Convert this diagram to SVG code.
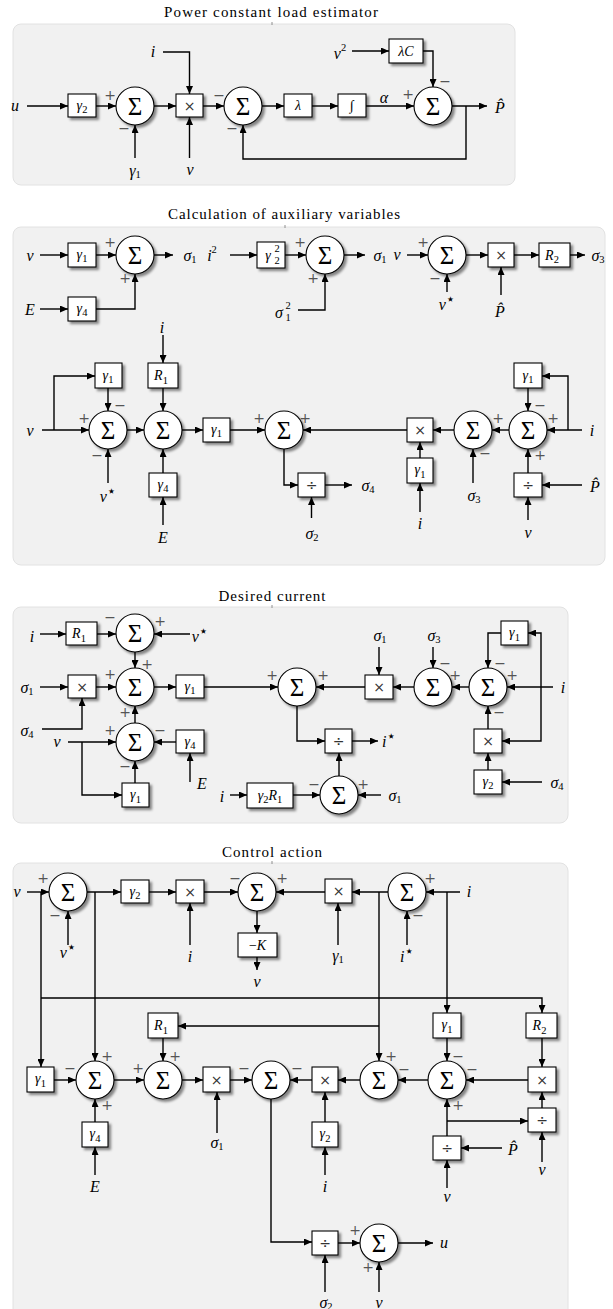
<svg xmlns="http://www.w3.org/2000/svg" width="613" height="1309" viewBox="0 0 613 1309">
<defs>
  <marker id="ah" markerUnits="userSpaceOnUse" markerWidth="9" markerHeight="7" refX="8" refY="3.5" orient="auto">
    <path d="M0,0 L8,3.5 L0,7 z" fill="#000"/>
  </marker>
  <filter id="sh" x="-30%" y="-30%" width="170%" height="170%">
    <feDropShadow dx="2.5" dy="2.5" stdDeviation="0.9" flood-color="#000" flood-opacity="0.45"/>
  </filter>
  <style>
    .pn{fill:#f1f1f1;stroke:#e2e2e2;stroke-width:1}
    .ttl{font-family:"Liberation Serif","DejaVu Serif",serif;font-size:15px;text-anchor:middle;fill:#000}
    .tk{stroke:#777;stroke-width:0.8}
    .b{fill:#fff;stroke:#000;stroke-width:1.1;filter:url(#sh)}
    .a{fill:none;stroke:#000;stroke-width:1.4;marker-end:url(#ah)}
    .t{font-family:"Liberation Serif","DejaVu Serif",serif;font-size:16px;font-style:italic;text-anchor:middle;dominant-baseline:central;fill:#000}
    .bt{font-size:14px}
    .r{font-style:normal}
    .sb{font-size:10.5px;font-style:normal}
    .st{font-family:"DejaVu Sans",sans-serif;font-size:15px;font-style:normal}
    .sig{font-family:"Liberation Serif","DejaVu Serif",serif;font-size:25px;font-style:normal;text-anchor:middle;dominant-baseline:central}
    .op{font-family:"DejaVu Sans",sans-serif;font-size:14px;fill:#333;text-anchor:middle;dominant-baseline:central}
    .sg{font-family:"DejaVu Sans",sans-serif;font-size:14px;fill:#555;text-anchor:middle;dominant-baseline:central}
  </style>
</defs>

<!-- ===== Panel 1: power constant load estimator ===== -->
<g id="panel1">
  <rect class="pn" x="13" y="24" width="502" height="161" rx="8"/>
  <text class="ttl" x="271" y="17" textLength="214" lengthAdjust="spacing">Power constant load estimator</text>
  <line class="tk" x1="272" y1="22" x2="272" y2="25"/>
</g>
<g id="p1-g2"><rect class="b" x="68" y="94" width="28" height="23"/><text class="t bt" x="82" y="105">γ<tspan class="sb" dy="4">2</tspan></text></g>
<g id="p1-sum1"><circle class="b" cx="135" cy="106" r="19"/><text class="sig" x="135" y="106">Σ</text>
  <text class="sg" x="110" y="95">+</text><text class="sg" x="124" y="128">−</text></g>
<g id="p1-mul"><rect class="b" x="176" y="94" width="27" height="23"/><text class="op" x="189.5" y="105.5">×</text></g>
<g id="p1-sum2"><circle class="b" cx="243" cy="106" r="19"/><text class="sig" x="243" y="106">Σ</text>
  <text class="sg" x="219" y="95">−</text><text class="sg" x="232" y="128">−</text></g>
<g id="p1-lambda"><rect class="b" x="284" y="94" width="28" height="23"/><text class="t bt" x="298" y="105.5">λ</text></g>
<g id="p1-int"><rect class="b" x="338" y="94" width="28" height="23"/><text class="t bt r" x="352" y="105.5">∫</text></g>
<g id="p1-lc"><rect class="b" x="389" y="39" width="34" height="24"/><text class="t bt" x="406" y="51">λC</text></g>
<g id="p1-sum3"><circle class="b" cx="433" cy="106" r="19"/><text class="sig" x="433" y="106">Σ</text>
  <text class="sg" x="408" y="94">+</text><text class="sg" x="445" y="81">−</text></g>
<g id="p1-labels">
  <text class="t" x="15" y="105">u</text>
  <text class="t" x="135" y="170">γ<tspan class="sb" dy="4">1</tspan></text>
  <text class="t" x="153" y="51">i</text>
  <text class="t" x="190" y="169">v</text>
  <text class="t" x="340" y="53">v<tspan class="sb" dy="-6">2</tspan></text>
  <text class="t" x="384" y="97">α</text>
  <text class="t" x="500" y="107">P&#x302;</text>
</g>

<!-- ===== Panel 2: calculation of auxiliary variables ===== -->
<g id="panel2">
  <rect class="pn" x="13" y="227" width="592" height="338" rx="8"/>
  <text class="ttl" x="284" y="219" textLength="232" lengthAdjust="spacing">Calculation of auxiliary variables</text>
  <line class="tk" x1="285" y1="225" x2="285" y2="228"/>
</g>
<g id="p2-g1a"><rect class="b" x="68" y="243" width="28" height="24"/><text class="t bt" x="82" y="254">γ<tspan class="sb" dy="4">1</tspan></text></g>
<g id="p2-g4a"><rect class="b" x="68" y="297" width="28" height="24"/><text class="t bt" x="82" y="308">γ<tspan class="sb" dy="4">4</tspan></text></g>
<g id="p2-sumA"><circle class="b" cx="135" cy="255" r="19"/><text class="sig" x="135" y="255">Σ</text>
  <text class="sg" x="110" y="242">+</text><text class="sg" x="125" y="278">+</text></g>
<g id="p2-g22"><rect class="b" x="257" y="242" width="28" height="26"/><text class="t bt" x="268" y="255">γ</text><text class="t sb" x="277" y="260">2</text><text class="t sb" x="277" y="248">2</text></g>
<g id="p2-sumB"><circle class="b" cx="325" cy="255" r="19"/><text class="sig" x="325" y="255">Σ</text>
  <text class="sg" x="300" y="242">+</text><text class="sg" x="313" y="278">+</text></g>
<g id="p2-sumC"><circle class="b" cx="447" cy="255" r="19"/><text class="sig" x="447" y="255">Σ</text>
  <text class="sg" x="423" y="242">+</text><text class="sg" x="435" y="278">−</text></g>
<g id="p2-mulA"><rect class="b" x="488" y="243" width="26" height="24"/><text class="op" x="501" y="254.5">×</text></g>
<g id="p2-r2"><rect class="b" x="539" y="243" width="31" height="24"/><text class="t bt" x="552" y="255">R<tspan class="sb" dy="4">2</tspan></text></g>

<g id="p2-g1b"><rect class="b" x="95" y="363" width="27" height="25"/><text class="t bt" x="108" y="375">γ<tspan class="sb" dy="4">1</tspan></text></g>
<g id="p2-r1"><rect class="b" x="148" y="363" width="30" height="25"/><text class="t bt" x="161" y="375.5">R<tspan class="sb" dy="4">1</tspan></text></g>
<g id="p2-sumD"><circle class="b" cx="108" cy="430" r="19"/><text class="sig" x="108" y="430">Σ</text>
  <text class="sg" x="84" y="418">+</text><text class="sg" x="120" y="405">−</text><text class="sg" x="97" y="455">−</text></g>
<g id="p2-sumE"><circle class="b" cx="163" cy="430" r="19"/><text class="sig" x="163" y="430">Σ</text></g>
<g id="p2-g4b"><rect class="b" x="149" y="473" width="28" height="24"/><text class="t bt" x="163" y="484">γ<tspan class="sb" dy="4">4</tspan></text></g>
<g id="p2-g1c"><rect class="b" x="203" y="418" width="27" height="24"/><text class="t bt" x="216.5" y="429">γ<tspan class="sb" dy="4">1</tspan></text></g>
<g id="p2-sumF"><circle class="b" cx="284" cy="430" r="19"/><text class="sig" x="284" y="430">Σ</text>
  <text class="sg" x="259" y="418">+</text><text class="sg" x="305" y="418">+</text></g>
<g id="p2-div"><rect class="b" x="298" y="473" width="27" height="24"/><text class="op" x="311.5" y="485">÷</text></g>
<g id="p2-mulB"><rect class="b" x="407" y="418" width="26" height="24"/><text class="op" x="420" y="429.5">×</text></g>
<g id="p2-g1d"><rect class="b" x="407" y="458" width="26" height="25"/><text class="t bt" x="420" y="469.5">γ<tspan class="sb" dy="4">1</tspan></text></g>
<g id="p2-sumG"><circle class="b" cx="473" cy="430" r="19"/><text class="sig" x="473" y="430">Σ</text>
  <text class="sg" x="498" y="418">+</text><text class="sg" x="485" y="453">−</text></g>
<g id="p2-sumH"><circle class="b" cx="528" cy="430" r="19"/><text class="sig" x="528" y="430">Σ</text>
  <text class="sg" x="540" y="405">−</text><text class="sg" x="553" y="418">+</text><text class="sg" x="540" y="455">+</text></g>
<g id="p2-g1e"><rect class="b" x="514" y="363" width="28" height="25"/><text class="t bt" x="528" y="375">γ<tspan class="sb" dy="4">1</tspan></text></g>
<g id="p2-divB"><rect class="b" x="514" y="473" width="28" height="24"/><text class="op" x="528" y="485">÷</text></g>
<g id="p2-labels">
  <text class="t" x="30" y="255">v</text>
  <text class="t" x="190" y="255">σ<tspan class="sb" dy="4">1</tspan></text>
  <text class="t" x="30" y="309">E</text>
  <text class="t" x="212" y="255">i<tspan class="sb" dy="-6">2</tspan></text>
  <text class="t" x="279" y="312">σ</text><text class="t sb" x="288" y="317">1</text><text class="t sb" x="288" y="305">2</text>
  <text class="t" x="380" y="255">σ<tspan class="sb" dy="4">1</tspan></text>
  <text class="t" x="397" y="254">v</text>
  <text class="t" x="447" y="304">v<tspan class="st" dy="-5">⋆</tspan></text>
  <text class="t" x="500" y="311">P&#x302;</text>
  <text class="t" x="598" y="255">σ<tspan class="sb" dy="4">3</tspan></text>
  <text class="t" x="162" y="327">i</text>
  <text class="t" x="30" y="430">v</text>
  <text class="t" x="108" y="496">v<tspan class="st" dy="-5">⋆</tspan></text>
  <text class="t" x="163" y="537">E</text>
  <text class="t" x="368" y="485">σ<tspan class="sb" dy="4">4</tspan></text>
  <text class="t" x="312" y="533">σ<tspan class="sb" dy="4">2</tspan></text>
  <text class="t" x="420" y="523">i</text>
  <text class="t" x="474" y="495">σ<tspan class="sb" dy="4">3</tspan></text>
  <text class="t" x="592" y="430">i</text>
  <text class="t" x="595" y="486">P&#x302;</text>
  <text class="t" x="528" y="532">v</text>
</g>

<!-- ===== Panel 3: desired current ===== -->
<g id="panel3">
  <rect class="pn" x="13" y="607" width="555" height="216" rx="8"/>
  <text class="ttl" x="272" y="601" textLength="107" lengthAdjust="spacing">Desired current</text>
  <line class="tk" x1="272" y1="605" x2="272" y2="608"/>
</g>
<g id="p3-r1"><rect class="b" x="66" y="622" width="31" height="23"/><text class="t bt" x="79" y="633.5">R<tspan class="sb" dy="4">1</tspan></text></g>
<g id="p3-sumA"><circle class="b" cx="135" cy="633" r="19"/><text class="sig" x="135" y="633">Σ</text>
  <text class="sg" x="110" y="617">−</text><text class="sg" x="160" y="621">+</text></g>
<g id="p3-mul"><rect class="b" x="68" y="675" width="28" height="23"/><text class="op" x="82" y="686.5">×</text></g>
<g id="p3-sumB"><circle class="b" cx="135" cy="687" r="19"/><text class="sig" x="135" y="687">Σ</text>
  <text class="sg" x="147" y="664">+</text><text class="sg" x="110" y="674">+</text><text class="sg" x="125" y="712">+</text></g>
<g id="p3-g1a"><rect class="b" x="176" y="675" width="28" height="23"/><text class="t bt" x="190" y="686">γ<tspan class="sb" dy="4">1</tspan></text></g>
<g id="p3-sumC"><circle class="b" cx="135" cy="742" r="19"/><text class="sig" x="135" y="742">Σ</text>
  <text class="sg" x="110" y="730">+</text><text class="sg" x="160" y="730">−</text><text class="sg" x="125" y="766">−</text></g>
<g id="p3-g4"><rect class="b" x="176" y="730" width="28" height="23"/><text class="t bt" x="190" y="741">γ<tspan class="sb" dy="4">4</tspan></text></g>
<g id="p3-g1b"><rect class="b" x="122" y="783" width="27" height="24"/><text class="t bt" x="135.5" y="794.5">γ<tspan class="sb" dy="4">1</tspan></text></g>
<g id="p3-sumD"><circle class="b" cx="297" cy="687" r="19"/><text class="sig" x="297" y="687">Σ</text>
  <text class="sg" x="272" y="675">+</text><text class="sg" x="323" y="675">+</text></g>
<g id="p3-mulB"><rect class="b" x="365" y="675" width="28" height="24"/><text class="op" x="379" y="686.5">×</text></g>
<g id="p3-sumE"><circle class="b" cx="433" cy="687" r="19"/><text class="sig" x="433" y="687">Σ</text>
  <text class="sg" x="455" y="675">+</text><text class="sg" x="445" y="663">−</text></g>
<g id="p3-sumF"><circle class="b" cx="488" cy="687" r="19"/><text class="sig" x="488" y="687">Σ</text>
  <text class="sg" x="500" y="663">−</text><text class="sg" x="512" y="675">+</text><text class="sg" x="499" y="712">−</text></g>
<g id="p3-g1c"><rect class="b" x="501" y="621" width="27" height="24"/><text class="t bt" x="514.5" y="632.5">γ<tspan class="sb" dy="4">1</tspan></text></g>
<g id="p3-mulC"><rect class="b" x="474" y="729" width="28" height="24"/><text class="op" x="488" y="740.5">×</text></g>
<g id="p3-g2"><rect class="b" x="474" y="770" width="28" height="24"/><text class="t bt" x="488" y="781">γ<tspan class="sb" dy="4">2</tspan></text></g>
<g id="p3-div"><rect class="b" x="325" y="729" width="27" height="24"/><text class="op" x="338.5" y="741">÷</text></g>
<g id="p3-sumG"><circle class="b" cx="339" cy="795" r="19"/><text class="sig" x="339" y="795">Σ</text>
  <text class="sg" x="314" y="784">−</text><text class="sg" x="363" y="784">+</text></g>
<g id="p3-g2r1"><rect class="b" x="247" y="783" width="46" height="25"/><text class="t bt" x="270" y="795">γ<tspan class="sb" dy="4">2</tspan><tspan dy="-4">R</tspan><tspan class="sb" dy="4">1</tspan></text></g>
<g id="p3-labels">
  <text class="t" x="32" y="636">i</text>
  <text class="t" x="200" y="636">v<tspan class="st" dy="-5">⋆</tspan></text>
  <text class="t" x="27" y="687">σ<tspan class="sb" dy="4">1</tspan></text>
  <text class="t" x="27" y="730">σ<tspan class="sb" dy="4">4</tspan></text>
  <text class="t" x="57" y="741">v</text>
  <text class="t" x="202" y="783">E</text>
  <text class="t" x="380" y="635">σ<tspan class="sb" dy="4">1</tspan></text>
  <text class="t" x="434" y="635">σ<tspan class="sb" dy="4">3</tspan></text>
  <text class="t" x="563" y="687">i</text>
  <text class="t" x="557" y="782">σ<tspan class="sb" dy="4">4</tspan></text>
  <text class="t" x="389" y="741">i<tspan class="st" dy="-5">⋆</tspan></text>
  <text class="t" x="395" y="795">σ<tspan class="sb" dy="4">1</tspan></text>
  <text class="t" x="222" y="796">i</text>
</g>

<!-- ===== Panel 4: control action ===== -->
<g id="panel4">
  <rect class="pn" x="13" y="863" width="555" height="460" rx="8"/>
  <text class="ttl" x="272" y="857" textLength="100" lengthAdjust="spacing">Control action</text>
  <line class="tk" x1="272" y1="861" x2="272" y2="864"/>
</g>
<g id="p4-sumA"><circle class="b" cx="68" cy="892" r="19"/><text class="sig" x="68" y="892">Σ</text>
  <text class="sg" x="43" y="878">+</text><text class="sg" x="55" y="915">−</text></g>
<g id="p4-g2a"><rect class="b" x="121" y="880" width="28" height="23"/><text class="t bt" x="135" y="891">γ<tspan class="sb" dy="4">2</tspan></text></g>
<g id="p4-mulA"><rect class="b" x="176" y="880" width="28" height="23"/><text class="op" x="190" y="891.5">×</text></g>
<g id="p4-sumB"><circle class="b" cx="257" cy="892" r="19"/><text class="sig" x="257" y="892">Σ</text>
  <text class="sg" x="235" y="878">−</text><text class="sg" x="282" y="878">+</text></g>
<g id="p4-k"><rect class="b" x="238" y="933" width="39" height="24"/><text class="t bt" x="257.5" y="945"><tspan class="r">−</tspan>K</text></g>
<g id="p4-mulB"><rect class="b" x="325" y="879" width="27" height="24"/><text class="op" x="338.5" y="891">×</text></g>
<g id="p4-sumC"><circle class="b" cx="407" cy="892" r="19"/><text class="sig" x="407" y="892">Σ</text>
  <text class="sg" x="430" y="878">+</text><text class="sg" x="418" y="915">−</text></g>
<g id="p4-r1"><rect class="b" x="148" y="1013" width="30" height="25"/><text class="t bt" x="161" y="1025.5">R<tspan class="sb" dy="4">1</tspan></text></g>
<g id="p4-g1a"><rect class="b" x="433" y="1013" width="28" height="25"/><text class="t bt" x="447" y="1024.5">γ<tspan class="sb" dy="4">1</tspan></text></g>
<g id="p4-r2"><rect class="b" x="526" y="1013" width="31" height="25"/><text class="t bt" x="539.5" y="1025.5">R<tspan class="sb" dy="4">2</tspan></text></g>
<g id="p4-g1b"><rect class="b" x="27" y="1067" width="27" height="25"/><text class="t bt" x="40.5" y="1078.5">γ<tspan class="sb" dy="4">1</tspan></text></g>
<g id="p4-sumD"><circle class="b" cx="95" cy="1080" r="19"/><text class="sig" x="95" y="1080">Σ</text>
  <text class="sg" x="70" y="1068">−</text><text class="sg" x="107" y="1056">+</text><text class="sg" x="107" y="1105">+</text></g>
<g id="p4-g4"><rect class="b" x="82" y="1122" width="26" height="25"/><text class="t bt" x="95" y="1133.5">γ<tspan class="sb" dy="4">4</tspan></text></g>
<g id="p4-sumE"><circle class="b" cx="163" cy="1080" r="19"/><text class="sig" x="163" y="1080">Σ</text>
  <text class="sg" x="138" y="1068">+</text><text class="sg" x="175" y="1056">+</text></g>
<g id="p4-mulC"><rect class="b" x="203" y="1067" width="27" height="25"/><text class="op" x="216.5" y="1079.5">×</text></g>
<g id="p4-sumF"><circle class="b" cx="271" cy="1080" r="19"/><text class="sig" x="271" y="1080">Σ</text>
  <text class="sg" x="244" y="1068">−</text><text class="sg" x="297" y="1068">−</text></g>
<g id="p4-mulD"><rect class="b" x="312" y="1067" width="26" height="25"/><text class="op" x="325" y="1079.5">×</text></g>
<g id="p4-g2b"><rect class="b" x="312" y="1122" width="26" height="25"/><text class="t bt" x="325" y="1133.5">γ<tspan class="sb" dy="4">2</tspan></text></g>
<g id="p4-sumG"><circle class="b" cx="379" cy="1080" r="19"/><text class="sig" x="379" y="1080">Σ</text>
  <text class="sg" x="391" y="1056">+</text><text class="sg" x="404" y="1069">−</text></g>
<g id="p4-sumH"><circle class="b" cx="447" cy="1080" r="19"/><text class="sig" x="447" y="1080">Σ</text>
  <text class="sg" x="458" y="1056">−</text><text class="sg" x="472" y="1069">−</text><text class="sg" x="458" y="1105">+</text></g>
<g id="p4-mulE"><rect class="b" x="528" y="1067" width="28" height="25"/><text class="op" x="542" y="1079.5">×</text></g>
<g id="p4-divA"><rect class="b" x="528" y="1108" width="28" height="24"/><text class="op" x="542" y="1120">÷</text></g>
<g id="p4-divB"><rect class="b" x="433" y="1136" width="28" height="24"/><text class="op" x="447" y="1148">÷</text></g>
<g id="p4-divC"><rect class="b" x="312" y="1231" width="26" height="24"/><text class="op" x="325" y="1243">÷</text></g>
<g id="p4-sumI"><circle class="b" cx="379" cy="1243" r="19"/><text class="sig" x="379" y="1243">Σ</text>
  <text class="sg" x="355" y="1230">+</text><text class="sg" x="368" y="1267">+</text></g>
<g id="p4-labels">
  <text class="t" x="17" y="891">v</text>
  <text class="t" x="68" y="952">v<tspan class="st" dy="-5">⋆</tspan></text>
  <text class="t" x="190" y="956">i</text>
  <text class="t" x="257" y="981">ν</text>
  <text class="t" x="338" y="955">γ<tspan class="sb" dy="4">1</tspan></text>
  <text class="t" x="407" y="956">i<tspan class="st" dy="-5">⋆</tspan></text>
  <text class="t" x="469" y="891">i</text>
  <text class="t" x="95" y="1186">E</text>
  <text class="t" x="217" y="1142">σ<tspan class="sb" dy="4">1</tspan></text>
  <text class="t" x="325" y="1186">i</text>
  <text class="t" x="542" y="1169">v</text>
  <text class="t" x="513" y="1149">P&#x302;</text>
  <text class="t" x="447" y="1196">v</text>
  <text class="t" x="444" y="1242">u</text>
  <text class="t" x="326" y="1302">σ<tspan class="sb" dy="4">2</tspan></text>
  <text class="t" x="379" y="1302">ν</text>
</g>

<!-- ===== Connectors ===== -->
<g id="connectors">
  <!-- panel 1 -->
  <path class="a" d="M27,106 H68"/>
  <path class="a" d="M96,106 H116"/>
  <path class="a" d="M135,158 V125"/>
  <path class="a" d="M154,106 H176"/>
  <path class="a" d="M163,52 H189.5 V94"/>
  <path class="a" d="M189.5,158 V117"/>
  <path class="a" d="M203,106 H224"/>
  <path class="a" d="M262,106 H284"/>
  <path class="a" d="M312,106 H338"/>
  <path class="a" d="M366,106 H414"/>
  <path class="a" d="M352,51 H389"/>
  <path class="a" d="M423,51 H433 V87"/>
  <path class="a" d="M452,106 H487"/>
  <path class="a" d="M466,106 V159 H243 V125"/>
  <!-- panel 2, top row -->
  <path class="a" d="M40,255 H68"/>
  <path class="a" d="M96,255 H116"/>
  <path class="a" d="M154,255 H173"/>
  <path class="a" d="M40,309 H68"/>
  <path class="a" d="M96,309 H135 V274"/>
  <path class="a" d="M230,255 H257"/>
  <path class="a" d="M285,255 H306"/>
  <path class="a" d="M298,310 H325 V274"/>
  <path class="a" d="M344,255 H365"/>
  <path class="a" d="M407,255 H428"/>
  <path class="a" d="M447,292 V274"/>
  <path class="a" d="M466,255 H488"/>
  <path class="a" d="M501,295 V267"/>
  <path class="a" d="M514,255 H539"/>
  <path class="a" d="M570,255 H585"/>
  <!-- panel 2, lower row -->
  <path class="a" d="M163,335 V363"/>
  <path class="a" d="M42,430 H89"/>
  <path class="a" d="M54,430 V376 H95"/>
  <path class="a" d="M108,388 V411"/>
  <path class="a" d="M108,483 V449"/>
  <path class="a" d="M127,430 H144"/>
  <path class="a" d="M163,388 V411"/>
  <path class="a" d="M163,473 V449"/>
  <path class="a" d="M163,525 V497"/>
  <path class="a" d="M182,430 H203"/>
  <path class="a" d="M230,430 H265"/>
  <path class="a" d="M284,449 V485 H298"/>
  <path class="a" d="M325,485 H352"/>
  <path class="a" d="M311.5,518 V497"/>
  <path class="a" d="M407,430 H303"/>
  <path class="a" d="M420,458 V442"/>
  <path class="a" d="M420,512 V483"/>
  <path class="a" d="M454,430 H433"/>
  <path class="a" d="M473,483 V449"/>
  <path class="a" d="M509,430 H492"/>
  <path class="a" d="M582,430 H547"/>
  <path class="a" d="M568,430 V376 H542"/>
  <path class="a" d="M528,388 V411"/>
  <path class="a" d="M528,473 V449"/>
  <path class="a" d="M582,485 H542"/>
  <path class="a" d="M528,520 V497"/>
  <!-- panel 3 -->
  <path class="a" d="M40,634 H66"/>
  <path class="a" d="M97,634 H116"/>
  <path class="a" d="M190,634 H154"/>
  <path class="a" d="M135,652 V668"/>
  <path class="a" d="M40,687 H68"/>
  <path class="a" d="M96,687 H116"/>
  <path class="a" d="M42,729 H82 V698"/>
  <path class="a" d="M154,687 H176"/>
  <path class="a" d="M204,687 H278"/>
  <path class="a" d="M135,723 V706"/>
  <path class="a" d="M68,742 H116"/>
  <path class="a" d="M82,742 V795 H122"/>
  <path class="a" d="M135,783 V761"/>
  <path class="a" d="M176,742 H154"/>
  <path class="a" d="M190,782 V753"/>
  <path class="a" d="M365,687 H316"/>
  <path class="a" d="M379,647 V675"/>
  <path class="a" d="M433,647 V668"/>
  <path class="a" d="M414,687 H393"/>
  <path class="a" d="M469,687 H452"/>
  <path class="a" d="M553,687 H507"/>
  <path class="a" d="M541,687 V633 H528"/>
  <path class="a" d="M541,687 V741 H502"/>
  <path class="a" d="M501,633 H488 V668"/>
  <path class="a" d="M488,729 V706"/>
  <path class="a" d="M488,770 V753"/>
  <path class="a" d="M542,782 H502"/>
  <path class="a" d="M297,706 V741 H325"/>
  <path class="a" d="M352,741 H378"/>
  <path class="a" d="M339,776 V753"/>
  <path class="a" d="M381,795 H358"/>
  <path class="a" d="M230,795 H247"/>
  <path class="a" d="M293,795 H320"/>
  <!-- panel 4, top row -->
  <path class="a" d="M27,892 H49"/>
  <path class="a" d="M68,945 V911"/>
  <path class="a" d="M87,892 H121"/>
  <path class="a" d="M149,892 H176"/>
  <path class="a" d="M190,945 V903"/>
  <path class="a" d="M204,892 H238"/>
  <path class="a" d="M257,911 V933"/>
  <path class="a" d="M257,957 V970"/>
  <path class="a" d="M325,892 H276"/>
  <path class="a" d="M338,945 V903"/>
  <path class="a" d="M407,945 V911"/>
  <path class="a" d="M388,892 H352"/>
  <path class="a" d="M460,892 H426"/>
  <!-- panel 4, vertical feeds -->
  <path class="a" d="M41,892 V1067"/>
  <path class="a" d="M41,998 H542 V1013"/>
  <path class="a" d="M95,892 V1061"/>
  <path class="a" d="M379,892 V1061"/>
  <path class="a" d="M379,1026 H178"/>
  <path class="a" d="M447,892 V1013"/>
  <path class="a" d="M163,1038 V1061"/>
  <path class="a" d="M447,1038 V1061"/>
  <path class="a" d="M542,1038 V1067"/>
  <!-- panel 4, middle row -->
  <path class="a" d="M54,1080 H76"/>
  <path class="a" d="M95,1122 V1099"/>
  <path class="a" d="M95,1175 V1147"/>
  <path class="a" d="M114,1080 H144"/>
  <path class="a" d="M182,1080 H203"/>
  <path class="a" d="M217,1133 V1092"/>
  <path class="a" d="M230,1080 H252"/>
  <path class="a" d="M312,1080 H290"/>
  <path class="a" d="M325,1122 V1092"/>
  <path class="a" d="M325,1175 V1147"/>
  <path class="a" d="M360,1080 H338"/>
  <path class="a" d="M428,1080 H398"/>
  <path class="a" d="M528,1080 H466"/>
  <path class="a" d="M542,1108 V1092"/>
  <path class="a" d="M542,1162 V1132"/>
  <path class="a" d="M447,1136 V1099"/>
  <path class="a" d="M447,1121 H528"/>
  <path class="a" d="M502,1148 H461"/>
  <path class="a" d="M447,1188 V1160"/>
  <!-- panel 4, bottom row -->
  <path class="a" d="M271,1099 V1242 H312"/>
  <path class="a" d="M338,1243 H360"/>
  <path class="a" d="M398,1243 H433"/>
  <path class="a" d="M325,1292 V1255"/>
  <path class="a" d="M379,1292 V1262"/>
</g>
</svg>
